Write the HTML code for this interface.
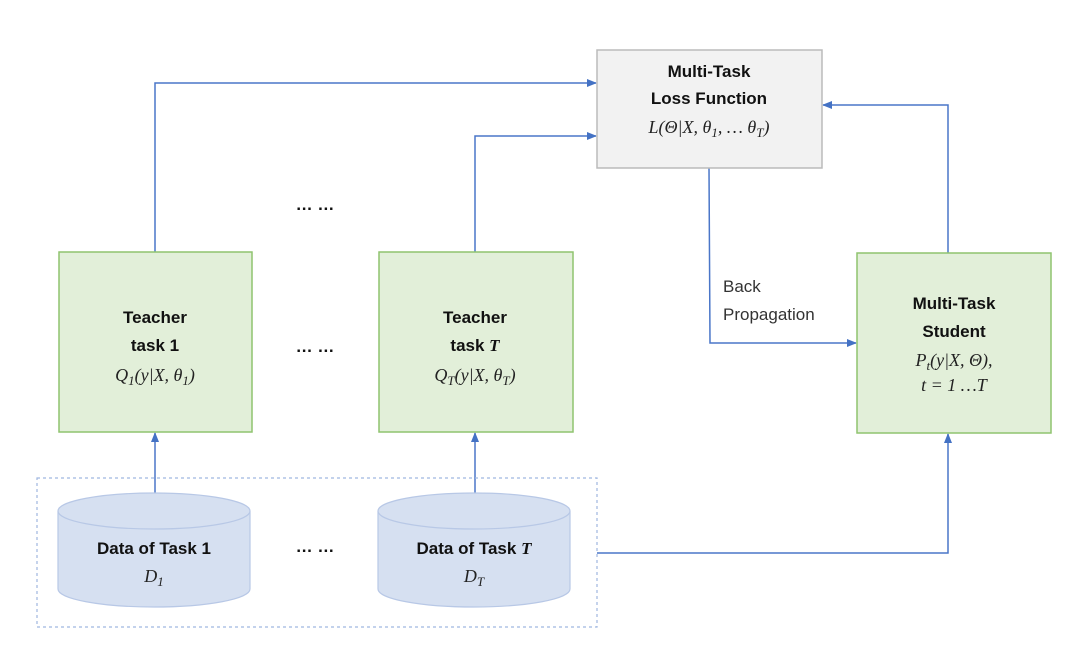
<!DOCTYPE html>
<html><head><meta charset="utf-8"><style>
body{margin:0;background:#fff;}
svg{display:block;font-family:"Liberation Sans",sans-serif;}
.b{font-weight:bold;font-size:17px;fill:#111;}
.m{font-family:"Liberation Serif",serif;font-style:italic;font-size:18px;fill:#222;}
</style></head><body>
<svg width="1080" height="661" viewBox="0 0 1080 661">
<defs><marker id="a" markerWidth="10" markerHeight="10" refX="9" refY="5" orient="auto" markerUnits="userSpaceOnUse"><path d="M0,1 L10,5 L0,9 z" fill="#4472c4"/></marker></defs>
<g fill="none" stroke="#4a76c8" stroke-width="1.5">
<path d="M155,252 V83 H596" marker-end="url(#a)"/>
<path d="M475,252 V136 H596" marker-end="url(#a)"/>
<path d="M948,253 V105 H823" marker-end="url(#a)"/>
<path d="M709,168 L710,343 H856" marker-end="url(#a)"/>
<path d="M597,553 H948 V434" marker-end="url(#a)"/>
<path d="M155,493 V433" marker-end="url(#a)"/>
<path d="M475,493 V433" marker-end="url(#a)"/>
</g>
<rect x="37" y="478" width="560" height="149" fill="none" stroke="#9fb6e0" stroke-width="1.2" stroke-dasharray="3,3"/>
<rect x="597" y="50" width="225" height="118" fill="#f2f2f2" stroke="#bbb" stroke-width="1.5"/>
<rect x="59" y="252" width="193" height="180" fill="#e2efd9" stroke="#8fc46f" stroke-width="1.5"/>
<rect x="379" y="252" width="194" height="180" fill="#e2efd9" stroke="#8fc46f" stroke-width="1.5"/>
<rect x="857" y="253" width="194" height="180" fill="#e2efd9" stroke="#8fc46f" stroke-width="1.5"/>
<g fill="#d6e0f1" stroke="#b8c8e6" stroke-width="1.2">
<path d="M58,511 V589 A96,18 0 0 0 250,589 V511"/>
<ellipse cx="154" cy="511" rx="96" ry="18"/>
<path d="M378,511 V589 A96,18 0 0 0 570,589 V511"/>
<ellipse cx="474" cy="511" rx="96" ry="18"/>
</g>
<g text-anchor="middle">
<text x="709" y="77" class="b">Multi-Task</text>
<text x="709" y="104" class="b">Loss Function</text>
<text x="709" y="133" class="m">L(Θ|X, θ<tspan font-size="13" dy="4">1</tspan><tspan dy="-4">, … θ</tspan><tspan font-size="13" dy="4">T</tspan><tspan dy="-4">)</tspan></text>
<text x="155" y="323" class="b">Teacher</text>
<text x="155" y="351" class="b">task 1</text>
<text x="155" y="381" class="m">Q<tspan font-size="13" dy="4">1</tspan><tspan dy="-4">(y|X, θ</tspan><tspan font-size="13" dy="4">1</tspan><tspan dy="-4">)</tspan></text>
<text x="475" y="323" class="b">Teacher</text>
<text x="475" y="351" class="b">task <tspan font-family="Liberation Serif" font-style="italic">T</tspan></text>
<text x="475" y="381" class="m">Q<tspan font-size="13" dy="4">T</tspan><tspan dy="-4">(y|X, θ</tspan><tspan font-size="13" dy="4">T</tspan><tspan dy="-4">)</tspan></text>
<text x="954" y="309" class="b">Multi-Task</text>
<text x="954" y="337" class="b">Student</text>
<text x="954" y="366" class="m">P<tspan font-size="13" dy="4">t</tspan><tspan dy="-4">(y|X, Θ),</tspan></text>
<text x="954" y="391" class="m">t = 1 …T</text>
<text x="154" y="554" class="b">Data of Task 1</text>
<text x="154" y="582" class="m">D<tspan font-size="13" dy="4">1</tspan></text>
<text x="474" y="554" class="b">Data of Task <tspan font-family="Liberation Serif" font-style="italic">T</tspan></text>
<text x="474" y="582" class="m">D<tspan font-size="13" dy="4">T</tspan></text>
<text x="315" y="210" class="b">… …</text>
<text x="315" y="352" class="b">… …</text>
<text x="315" y="552" class="b">… …</text>
</g>
<text x="723" y="292" font-size="17" fill="#333">Back</text>
<text x="723" y="320" font-size="17" fill="#333">Propagation</text>
</svg>
</body></html>
